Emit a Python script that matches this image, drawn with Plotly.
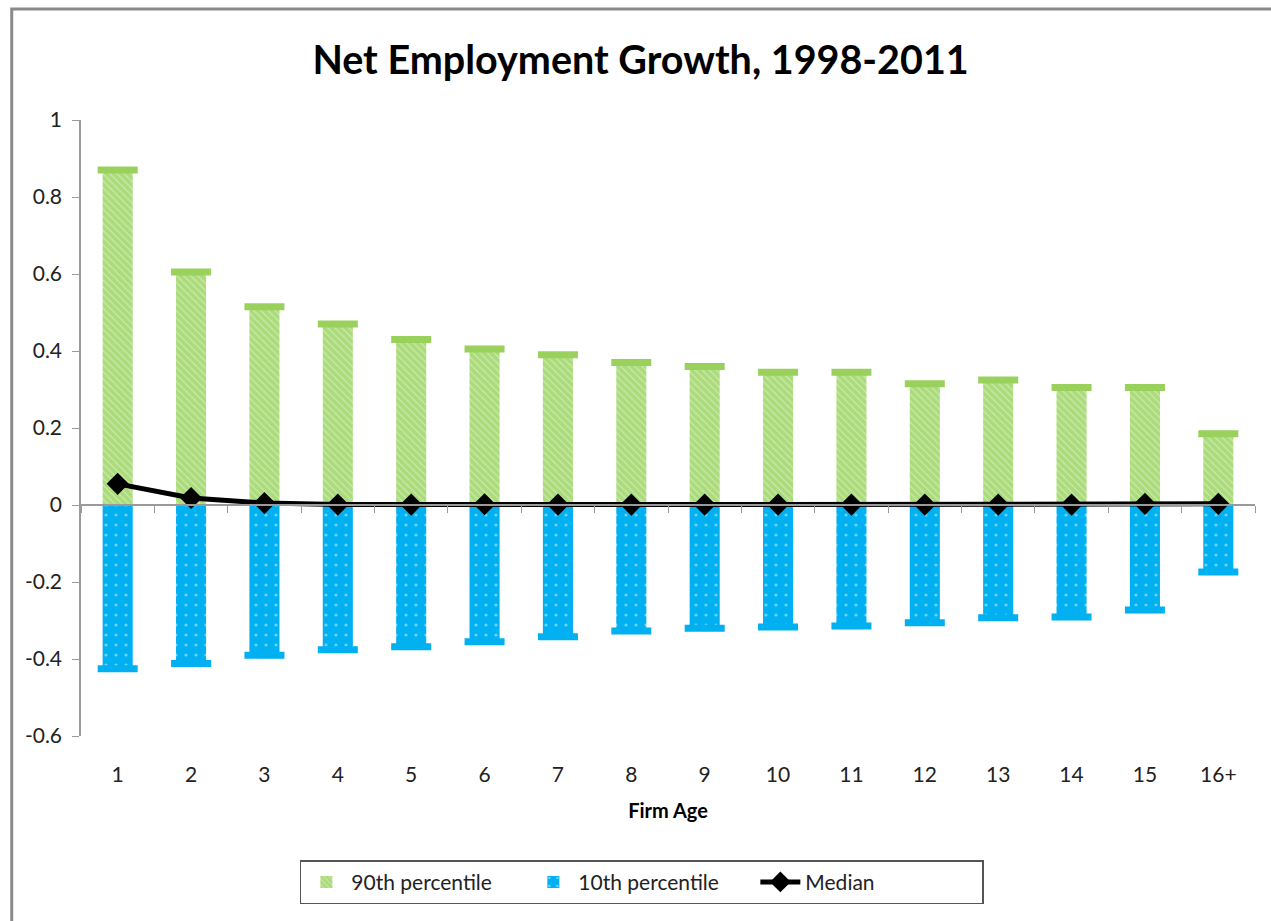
import plotly.graph_objects as go

categories = ["1", "2", "3", "4", "5", "6", "7", "8", "9", "10", "11", "12", "13", "14", "15", "16+"]
p90 = [0.87, 0.605, 0.515, 0.47, 0.43, 0.405, 0.39, 0.37, 0.36, 0.345, 0.345, 0.315, 0.325, 0.305, 0.305, 0.185]
p10 = [-0.425, -0.412, -0.39, -0.376, -0.368, -0.355, -0.342, -0.327, -0.32, -0.317, -0.314, -0.306, -0.293, -0.291, -0.273, -0.174]
median = [0.055, 0.018, 0.005, 0.001, 0.001, 0.002, 0.001, 0.001, 0.001, 0.001, 0.001, 0.001, 0.001, 0.001, 0.003, 0.003]
ytick_vals = [-0.6, -0.4, -0.2, 0, 0.2, 0.4, 0.6, 0.8, 1]
ytick_text = ["-0.6", "-0.4", "-0.2", "0", "0.2", "0.4", "0.6", "0.8", "1"]

FONT = "Lato"
GREEN = "#8fce4c"
BLUE = "#00B0F0"

fig = go.Figure()
fig.add_trace(go.Bar(
    x=categories, y=p90, name="90th percentile", width=0.41,
    marker=dict(color=GREEN, line=dict(width=0),
                pattern=dict(shape="\\", fgcolor="#8acb45", bgcolor="#cdeab0", size=5, solidity=0.78)),
    error_y=dict(type="data", array=[0] * len(p90), visible=True, color="#9ad15c", thickness=7, width=20),
))
fig.add_trace(go.Bar(
    x=categories, y=p10, name="10th percentile", width=0.41,
    marker=dict(color=BLUE, line=dict(width=0),
                pattern=dict(shape=".", fgcolor="#d9f4ff", bgcolor=BLUE, size=10, solidity=0.08)),
    error_y=dict(type="data", array=[0] * len(p10), visible=True, color=BLUE, thickness=7, width=20),
))
fig.add_trace(go.Scatter(
    x=categories, y=median, name="Median", mode="lines+markers",
    line=dict(color="black", width=5),
    marker=dict(symbol="diamond", size=17, color="black"),
))
# axis line with ticks at y = 0
fig.add_trace(go.Scatter(x=categories, y=[None] * len(categories), xaxis="x2", showlegend=False, hoverinfo="skip"))

fig.update_layout(
    width=1271, height=921,
    barmode="overlay",
    paper_bgcolor="white", plot_bgcolor="white",
    margin=dict(l=81, r=16, t=120, b=185),
    font=dict(family=FONT, color="#222222"),
    title=dict(text="<b>Net Employment Growth, 1998-2011</b>", x=0.504, xref="container", xanchor="center",
               y=0.935, yanchor="middle", font=dict(size=39.5, family=FONT, color="black")),
    xaxis=dict(showline=False, ticks="", tickfont=dict(size=21, family=FONT, color="#222"),
               ticklabelstandoff=24,
               title=dict(text="<b>Firm Age</b>", font=dict(size=20, family=FONT, color="black"), standoff=18),
               showgrid=False, zeroline=False, range=[-0.5, 15.5]),
    xaxis2=dict(overlaying="x", anchor="free", position=0.375, showline=True, linecolor="#9a9a9a", linewidth=1.5,
                ticks="outside", tickson="boundaries", ticklen=7, tickcolor="#9a9a9a",
                showticklabels=False, showgrid=False, zeroline=False, range=[-0.5, 15.5],
                type="category", categoryarray=categories),
    yaxis=dict(range=[-0.6, 1], tickvals=ytick_vals, ticktext=ytick_text, showline=True, linecolor="#9a9a9a",
               linewidth=1.5, ticks="outside", ticklen=7, tickcolor="#9a9a9a", showgrid=False, zeroline=False,
               tickfont=dict(size=21, family=FONT, color="#222"), ticklabelstandoff=6),
    legend=dict(orientation="h", x=0.505, xref="container", xanchor="center", y=0.042, yref="container", yanchor="middle",
                bordercolor="#555555", borderwidth=1.5, font=dict(size=21, family=FONT, color="#222"),
                itemwidth=40, tracegroupgap=0, entrywidth=172),
    shapes=[dict(type="rect", xref="paper", yref="paper", x0=-0.059, x1=1.05, y0=-0.4, y1=1.18,
                 line=dict(color="#8a8a8a", width=3), fillcolor="rgba(0,0,0,0)", layer="below")],
    showlegend=True,
)
fig.write_html("out.html")
